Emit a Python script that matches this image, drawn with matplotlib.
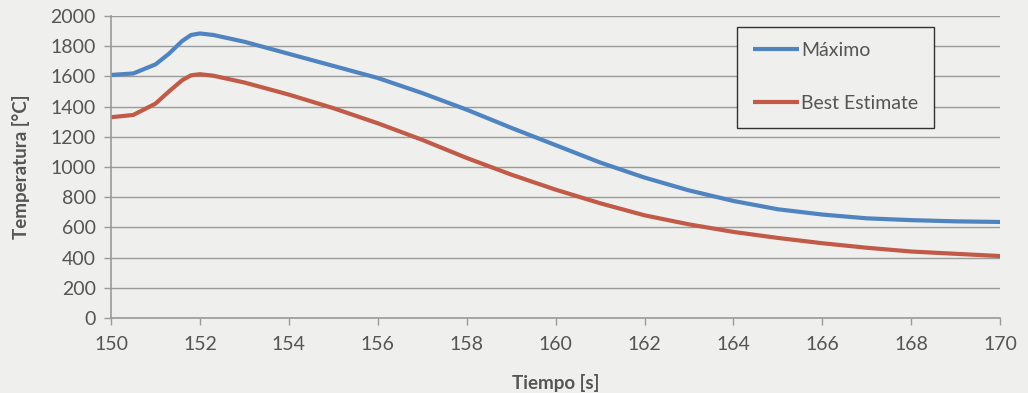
import matplotlib
matplotlib.use("Agg")
import matplotlib.pyplot as plt

# --- data ---------------------------------------------------------------------------------
tiempo = [150, 150.5, 151, 151.3, 151.6, 151.8, 152.0, 152.3, 153, 154, 155, 156, 157, 158,
          159, 160, 161, 162, 163, 164, 165, 166, 167, 168, 169, 170]
maximo = [1610, 1620, 1680, 1750, 1835, 1875, 1885, 1875, 1830, 1750, 1670, 1590, 1490, 1380,
          1260, 1145, 1030, 930, 845, 775, 720, 685, 660, 648, 640, 636]
best_estimate = [1330, 1345, 1420, 1500, 1575, 1608, 1615, 1605, 1560, 1480, 1390, 1290, 1180,
                 1060, 950, 850, 760, 680, 620, 570, 530, 495, 465, 440, 425, 410]
x_ticks = list(range(150, 171, 2))
y_ticks = list(range(0, 2001, 200))

BG = "#efefed"
TXT = "#555555"
GRID = "#9a9a9a"

plt.rcParams["font.family"] = ["Lato", "DejaVu Sans"]

fig = plt.figure(figsize=(10.28, 3.93), dpi=100, facecolor=BG)
ax = fig.add_axes([0.108, 0.191, 0.865, 0.768], facecolor=BG)

ax.plot(tiempo, maximo, color="#4f84c0", lw=3, label="Máximo", solid_capstyle="butt")
ax.plot(tiempo, best_estimate, color="#c25a48", lw=3, label="Best Estimate",
        solid_capstyle="butt")

ax.set_xlim(150, 170)
ax.set_ylim(0, 2000)
ax.set_xticks(x_ticks)
ax.set_yticks(y_ticks)
ax.grid(axis="y", color=GRID, lw=1)
ax.set_axisbelow(True)

for side in ("top", "right"):
    ax.spines[side].set_visible(False)
for side in ("left", "bottom"):
    ax.spines[side].set_color(GRID)
    ax.spines[side].set_linewidth(1.2)
ax.tick_params(axis="both", colors=GRID, labelcolor=TXT, labelsize=14, length=5, width=1)
ax.tick_params(axis="x", pad=8)
ax.tick_params(axis="y", pad=6)

ax.set_xlabel("Tiempo [s]", fontsize=13.5, fontweight="bold", color=TXT, labelpad=15)
ax.set_ylabel("Temperatura [°C]", fontsize=13.5, fontweight="bold", color=TXT, labelpad=15)

leg = ax.legend(loc="upper left", bbox_to_anchor=(0.704, 0.965), fontsize=14,
                handlelength=2.4, handletextpad=0.1, labelspacing=1.85, borderpad=0.8,
                fancybox=False, framealpha=1, facecolor=BG, edgecolor="#333333",
                borderaxespad=0)
leg.get_frame().set_linewidth(1)
for t in leg.get_texts():
    t.set_color(TXT)

fig.savefig("out.png", dpi=100, facecolor=BG)
